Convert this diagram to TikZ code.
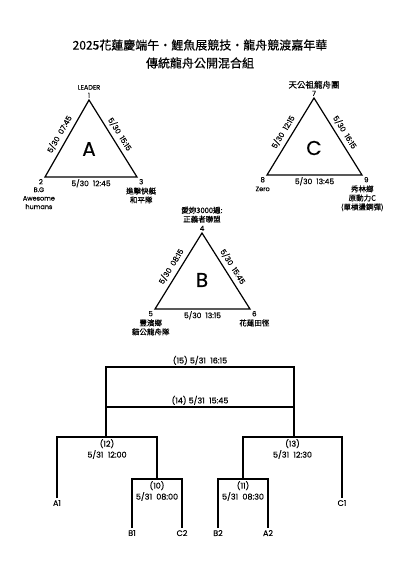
\documentclass[tikz,border=0pt]{standalone}
\usepackage{fontspec}
\setmainfont{Poppins}[FakeBold=0.4]
\newfontfamily\cjk{Noto Sans CJK TC}[FakeBold=0.3]
\usetikzlibrary{positioning}

\begin{document}
\begin{tikzpicture}[x=1pt, y=-1pt, line width=1.2pt,
    every node/.style={inner sep=1.5pt},
    num/.style={font=\fontsize{7}{8}\selectfont},
    team/.style={font=\fontsize{6.5}{8.5}\selectfont, align=center},
    zh/.style={font=\cjk\fontsize{7.5}{9}\selectfont, align=center},
    datelbl/.style={font=\fontsize{7.5}{9}\selectfont},
    grp/.style={font=\fontsize{20}{20}\selectfont},
    game/.style={font=\fontsize{8}{11}\selectfont, align=center}]
    \useasboundingbox (0,0) rectangle (400,563);

    % Title
    \node (title1) at (200,45) [font=\cjk\fontsize{12}{14}\selectfont] {2025花蓮慶端午・鯉魚展競技・龍舟競渡嘉年華};
    \node (title2) at (200,63) [font=\cjk\fontsize{12}{14}\selectfont] {傳統龍舟公開混合組};

    % Define the corners of the three groups
    \coordinate (a1) at (89,100);
    \coordinate (a2) at (45,177);
    \coordinate (a3) at (137,177);
    \coordinate (c7) at (314,98);
    \coordinate (c8) at (267,175);
    \coordinate (c9) at (362,175);
    \coordinate (b4) at (202,233);
    \coordinate (b5) at (155,309);
    \coordinate (b6) at (250,309);

    % Draw the triangles
    \draw (a1) -- (a2) -- (a3) -- cycle; % group A
    \draw (c7) -- (c8) -- (c9) -- cycle; % group C
    \draw (b4) -- (b5) -- (b6) -- cycle; % group B

    % Match times on the sides
    \path (a2) -- node[datelbl, sloped, above=2.5pt] (t12) {5/30\ \ 07:45} (a1);
    \path (a1) -- node[datelbl, sloped, above=2pt] (t13) {5/30\ \ 15:15} (a3);
    \path (a2) -- node[datelbl, below] (t23) {5/30\ \ 12:45} (a3);
    \path (c8) -- node[datelbl, sloped, above=2.5pt] (t78) {5/30\ \ 12:15} (c7);
    \path (c7) -- node[datelbl, sloped, above=2pt] (t79) {5/30\ \ 16:15} (c9);
    \path (c8) -- node[datelbl, below] (t89) {5/30\ \ 13:45} (c9);
    \path (b5) -- node[datelbl, sloped, above=2.5pt] (t45) {5/30\ \ 08:15} (b4);
    \path (b4) -- node[datelbl, sloped, above=2pt] (t46) {5/30\ \ 15:45} (b6);
    \path (b5) -- node[datelbl, below] (t56) {5/30\ \ 13:15} (b6);

    % Group letters
    \node (gA) at (89,149) [grp] {A};
    \node (gC) at (314,148) [grp] {C};
    \node (gB) at (202,280) [grp] {B};

    % Team numbers and names
    \node (n1) at (a1) [num, above] {1};
    \node (p1) [team, above=-1pt of n1] {LEADER};
    \node (n2) at (a2) [num, below left] {2};
    \node (p2) [team, below=-1pt of n2, xshift=-2pt] {B.G\\Awesome\\humans};
    \node (n3) at (a3) [num, below right] {3};
    \node (p3) [zh, below=-1pt of n3] {進擊快艇\\和平隊};

    \node (n7) at (c7) [num, above] {7};
    \node (p7) [zh, above=-2pt of n7, font=\cjk\fontsize{8.5}{9}\selectfont] {天公祖龍舟團};
    \node (n8) at (c8) [num, below left] {8};
    \node (p8) [team, below=0pt of n8] {Zero};
    \node (n9) at (c9) [num, below right] {9};
    \node (p9) [zh, below=-1pt of n9, xshift=-4pt] {秀林鄉\\原動力C\\(單槓盪鋼彈)};

    \node (n4) at (b4) [num, above] {4};
    \node (p4) [zh, above=-1pt of n4] {愛妳3000遍:\\正義者聯盟};
    \node (n5) at (b5) [num, below left] {5};
    \node (p5) [zh, below=-1pt of n5] {豐濱鄉\\貓公龍舟隊};
    \node (n6) at (b6) [num, below right] {6};
    \node (p6) [zh, below=-1pt of n6] {花蓮田徑};

    % Knockout bracket
    \coordinate (f15l) at (106,367);
    \coordinate (f15r) at (294,367);
    \coordinate (f14l) at (106,407);
    \coordinate (f14r) at (294,407);
    \coordinate (q12l) at (57,437);
    \coordinate (q12r) at (157,437);
    \coordinate (q13l) at (243,437);
    \coordinate (q13r) at (342,437);
    \coordinate (q10l) at (132,479);
    \coordinate (q10r) at (182,479);
    \coordinate (q11l) at (218,479);
    \coordinate (q11r) at (268,479);
    \coordinate (eA1) at (57,498);
    \coordinate (eC1) at (342,498);
    \coordinate (eB1) at (132,528);
    \coordinate (eC2) at (182,528);
    \coordinate (eB2) at (218,528);
    \coordinate (eA2) at (268,528);

    \draw (f15l |- q12l) -- (f15l) -- (f15r) -- (f15r |- q13l);
    \draw (f14l) -- (f14r);
    \draw (eA1) -- (q12l) -- (q12r) -- (q12r |- q10l);
    \draw (q13l |- q11l) -- (q13l) -- (q13r) -- (eC1);
    \draw (eB1) -- (q10l) -- (q10r) -- (eC2);
    \draw (eB2) -- (q11l) -- (q11r) -- (eA2);

    \path (f15l) -- node[game, above] (g15) {(15) 5/31\ \ 16:15} (f15r);
    \path (f14l) -- node[game, above] (g14) {(14) 5/31\ \ 15:45} (f14r);
    \path (q12l) -- node[game, below] (g12) {(12)\\5/31\ \ 12:00} (q12r);
    \path (q13l) -- node[game, below] (g13) {(13)\\5/31\ \ 12:30} (q13r);
    \path (q10l) -- node[game, below] (g10) {(10)\\5/31\ \ 08:00} (q10r);
    \path (q11l) -- node[game, below] (g11) {(11)\\5/31\ \ 08:30} (q11r);

    \node (sA1) at (eA1) [game, below] {A1};
    \node (sC1) at (eC1) [game, below] {C1};
    \node (sB1) at (eB1) [game, below] {B1};
    \node (sC2) at (eC2) [game, below] {C2};
    \node (sB2) at (eB2) [game, below] {B2};
    \node (sA2) at (eA2) [game, below] {A2};
\end{tikzpicture}
\end{document}
